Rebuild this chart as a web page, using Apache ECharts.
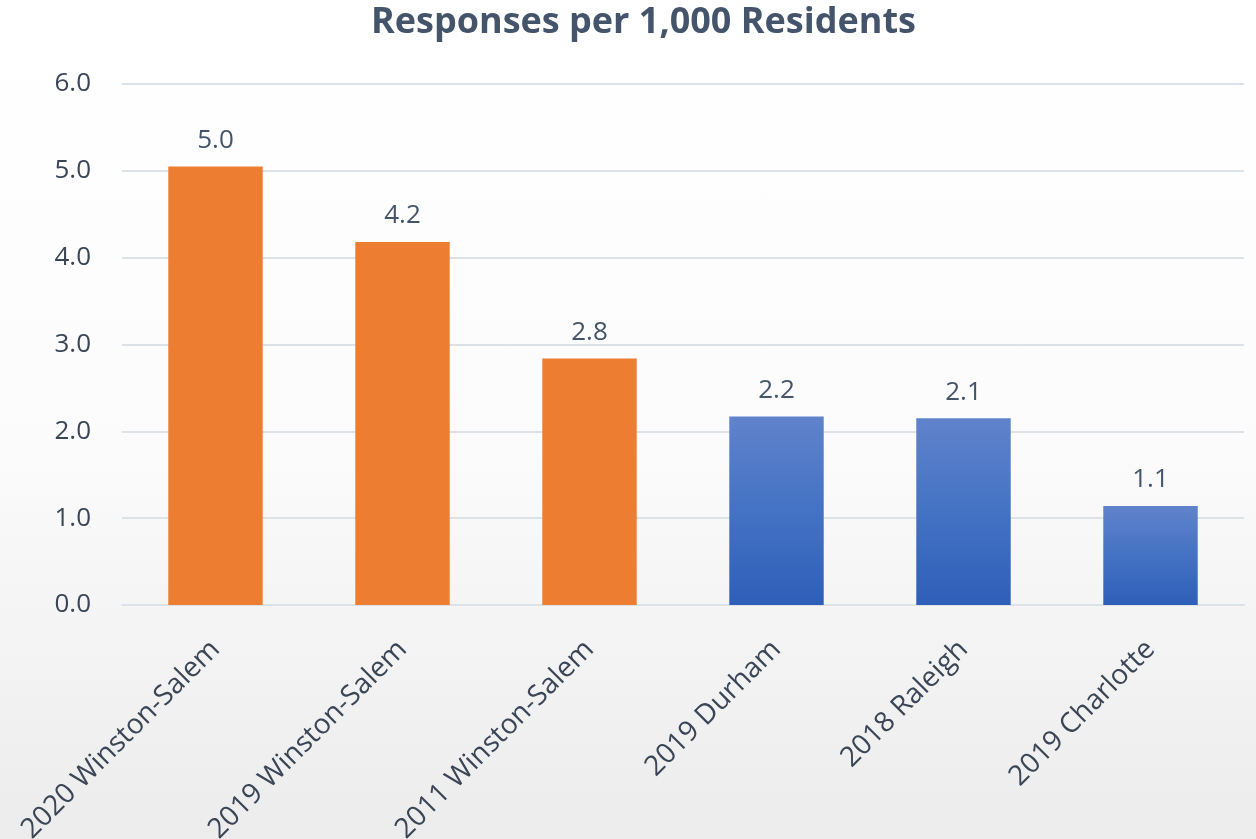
<!DOCTYPE html>
<html>
<head>
<meta charset="utf-8">
<script src="https://cdn.jsdelivr.net/npm/echarts@6/dist/echarts.min.js"></script>
<style>
html,body{margin:0;padding:0;}
#c{width:1256px;height:839px;background:linear-gradient(to bottom,#ffffff 0%,#fcfcfc 50%,#ececec 100%);}
</style>
</head>
<body>
<div id="c"></div>
<script>
const titleText = "Responses per 1,000 Residents";
const categories = ["2020 Winston-Salem","2019 Winston-Salem","2011 Winston-Salem","2019 Durham","2018 Raleigh","2019 Charlotte"];
const values = [5.05, 4.18, 2.84, 2.17, 2.15, 1.14];
const valueLabels = ["5.0","4.2","2.8","2.2","2.1","1.1"];
const groups = ["ws","ws","ws","other","other","other"];

const FONT = "'Open Sans', sans-serif";
const orange = "#ED7D31";
const blueGrad = {type:'linear',x:0,y:0,x2:0,y2:1,colorStops:[{offset:0,color:'#6083CB'},{offset:0.5,color:'#4472C4'},{offset:1,color:'#2E5FB8'}]};

const chart = echarts.init(document.getElementById('c'), null, {renderer:'canvas'});
chart.setOption({
  backgroundColor: 'transparent',
  title: {
    text: titleText, left: 366, top: 0,
    textStyle: {fontFamily: FONT, fontSize: 36, fontWeight: 'bold', color: '#44546A'}
  },
  grid: {left: 122, right: 12, top: 84, bottom: 234, containLabel: false, outerBoundsMode: 'none'},
  xAxis: {
    type: 'category', data: categories,
    axisLine: {lineStyle: {color: '#dde2e8', width: 2}},
    axisTick: {show: false},
    axisLabel: {rotate: 45, fontFamily: FONT, fontSize: 28, color: '#3A4556', margin: 40, interval: 0}
  },
  yAxis: {
    type: 'value', min: 0, max: 6, interval: 1,
    axisLine: {show: false}, axisTick: {show: false},
    splitLine: {lineStyle: {color: '#dde2e8', width: 2}},
    axisLabel: {fontFamily: FONT, fontSize: 26, color: '#3A4556', margin: 31,
      formatter: v => v.toFixed(1)}
  },
  series: [{
    type: 'bar', barWidth: '50.5%',
    data: values.map((v,i) => ({value: v, itemStyle: {color: groups[i]==='ws' ? orange : blueGrad}})),
    label: {show: true, position: 'top', distance: 13, fontFamily: FONT, fontSize: 26, color: '#44546A',
      formatter: p => valueLabels[p.dataIndex]}
  }]
});
</script>
</body>
</html>
